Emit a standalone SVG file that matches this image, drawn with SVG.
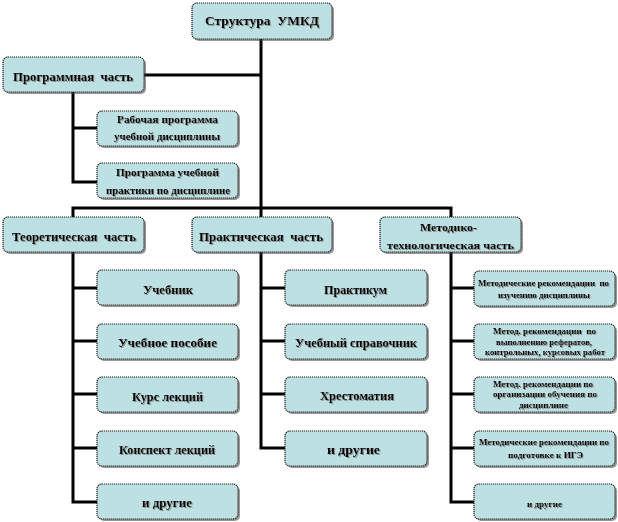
<svg xmlns="http://www.w3.org/2000/svg" width="618" height="522" viewBox="0 0 618 522">
<defs>
<filter id="tsh" x="-5%" y="-20%" width="115%" height="150%"><feDropShadow dx="1" dy="1" stdDeviation="0.4" flood-color="#777" flood-opacity="0.8"/></filter>
<style>
.box{fill:#bde0e3;stroke:#222;stroke-width:1.2;stroke-dasharray:1.2 0.8}
.sh{fill:#444;opacity:0.55}
.t{font-family:"Liberation Serif","Times New Roman","DejaVu Serif",serif;font-weight:bold;fill:#000;text-anchor:middle;white-space:pre;filter:url(#tsh)}
.t13{font-size:13.5px}
.t12{font-size:12px}
.t11{font-size:11px}
.t9{font-size:9px}
.ln{stroke:#000;stroke-width:3;fill:none}
</style>
</defs>
<rect width="618" height="522" fill="#fff"/>
<g id="connectors">
<path class="ln" d="M261 39V208"/>
<path class="ln" d="M144 75H261"/>
<path class="ln" d="M73 92V182H97M73 128H97"/>
<path class="ln" d="M73 217V208H451V217M261 208V217"/>
<path class="ln" d="M73 252V502H97M73 288H97M73 341H97M73 394H97M73 448H97"/>
<path class="ln" d="M261 252V448H285M261 288H285M261 341H285M261 394H285"/>
<path class="ln" d="M451 252V502H474M451 288H474M451 341H474M451 394H474M451 448H474"/>
</g>
<g id="n-root"><rect class="sh" x="194" y="5" width="140" height="36" rx="5"/><rect class="box" x="192" y="3" width="140" height="36" rx="5"/><text class="t t13" x="262" y="25" textLength="114" lengthAdjust="spacingAndGlyphs">Структура  УМКД</text></g>
<g id="n-prog"><rect class="sh" x="5" y="59" width="141" height="35" rx="5"/><rect class="box" x="3" y="57" width="141" height="35" rx="5"/><text class="t t13" x="73" y="81" textLength="120" lengthAdjust="spacingAndGlyphs">Программная  часть</text></g>
<g id="n-rab"><rect class="sh" x="99" y="113" width="141" height="35" rx="5"/><rect class="box" x="97" y="111" width="141" height="35" rx="5"/><text class="t t11" x="167.5" y="123" textLength="101" lengthAdjust="spacingAndGlyphs">Рабочая программа</text><text class="t t11" x="167" y="140" textLength="106" lengthAdjust="spacingAndGlyphs">учебной дисциплины</text></g>
<g id="n-prak-prog"><rect class="sh" x="99" y="165" width="141" height="35" rx="5"/><rect class="box" x="97" y="163" width="141" height="35" rx="5"/><text class="t t11" x="167.5" y="176" textLength="103" lengthAdjust="spacingAndGlyphs">Программа учебной</text><text class="t t11" x="168" y="194" textLength="124" lengthAdjust="spacingAndGlyphs">практики по дисциплине</text></g>
<g id="n-teor"><rect class="sh" x="5" y="219" width="141" height="35" rx="5"/><rect class="box" x="3" y="217" width="141" height="35" rx="5"/><text class="t t13" x="74" y="241" textLength="124" lengthAdjust="spacingAndGlyphs">Теоретическая  часть</text></g>
<g id="n-prakt"><rect class="sh" x="194" y="219" width="140" height="35" rx="5"/><rect class="box" x="192" y="217" width="140" height="35" rx="5"/><text class="t t13" x="261" y="241" textLength="124" lengthAdjust="spacingAndGlyphs">Практическая  часть</text></g>
<g id="n-metod"><rect class="sh" x="382" y="219" width="141" height="35" rx="5"/><rect class="box" x="380" y="217" width="141" height="35" rx="5"/><text class="t t11" x="448.5" y="231" textLength="57" lengthAdjust="spacingAndGlyphs">Методико-</text><text class="t t11" x="450.5" y="249" textLength="127" lengthAdjust="spacingAndGlyphs">технологическая часть</text></g>
<g id="n-uch"><rect class="sh" x="99" y="272" width="141" height="35" rx="5"/><rect class="box" x="97" y="270" width="141" height="35" rx="5"/><text class="t t12" x="168" y="294" textLength="50" lengthAdjust="spacingAndGlyphs">Учебник</text></g>
<g id="n-pos"><rect class="sh" x="99" y="326" width="141" height="35" rx="5"/><rect class="box" x="97" y="324" width="141" height="35" rx="5"/><text class="t t12" x="167.5" y="347" textLength="99" lengthAdjust="spacingAndGlyphs">Учебное пособие</text></g>
<g id="n-kurs"><rect class="sh" x="99" y="379" width="141" height="35" rx="5"/><rect class="box" x="97" y="377" width="141" height="35" rx="5"/><text class="t t12" x="167.5" y="401" textLength="71" lengthAdjust="spacingAndGlyphs">Курс лекций</text></g>
<g id="n-konsp"><rect class="sh" x="99" y="433" width="141" height="35" rx="5"/><rect class="box" x="97" y="431" width="141" height="35" rx="5"/><text class="t t12" x="167" y="454" textLength="96" lengthAdjust="spacingAndGlyphs">Конспект лекций</text></g>
<g id="n-dr1"><rect class="sh" x="99" y="486" width="141" height="35" rx="5"/><rect class="box" x="97" y="484" width="141" height="35" rx="5"/><text class="t t12" x="167" y="507" textLength="50" lengthAdjust="spacingAndGlyphs">и другие</text></g>
<g id="n-praktikum"><rect class="sh" x="287" y="272" width="142" height="35" rx="5"/><rect class="box" x="285" y="270" width="142" height="35" rx="5"/><text class="t t12" x="355.5" y="294" textLength="63" lengthAdjust="spacingAndGlyphs">Практикум</text></g>
<g id="n-sprav"><rect class="sh" x="287" y="326" width="142" height="35" rx="5"/><rect class="box" x="285" y="324" width="142" height="35" rx="5"/><text class="t t12" x="356" y="347" textLength="122" lengthAdjust="spacingAndGlyphs">Учебный справочник</text></g>
<g id="n-hrest"><rect class="sh" x="287" y="379" width="142" height="35" rx="5"/><rect class="box" x="285" y="377" width="142" height="35" rx="5"/><text class="t t12" x="357" y="400" textLength="74" lengthAdjust="spacingAndGlyphs">Хрестоматия</text></g>
<g id="n-dr2"><rect class="sh" x="287" y="433" width="142" height="35" rx="5"/><rect class="box" x="285" y="431" width="142" height="35" rx="5"/><text class="t t12" x="353.5" y="454" textLength="53" lengthAdjust="spacingAndGlyphs">и другие</text></g>
<g id="n-m1"><rect class="sh" x="476" y="273" width="141" height="35" rx="5"/><rect class="box" x="474" y="271" width="141" height="35" rx="5"/><text class="t t9" x="543.5" y="286" textLength="131" lengthAdjust="spacingAndGlyphs">Методические рекомендации  по</text><text class="t t9" x="544" y="298" textLength="92" lengthAdjust="spacingAndGlyphs">изучению дисциплины</text></g>
<g id="n-m2"><rect class="sh" x="476" y="326" width="141" height="35" rx="5"/><rect class="box" x="474" y="324" width="141" height="35" rx="5"/><text class="t t9" x="544.5" y="334" textLength="103" lengthAdjust="spacingAndGlyphs">Метод. рекомендации  по</text><text class="t t9" x="544" y="345" textLength="96" lengthAdjust="spacingAndGlyphs">выполнению рефератов,</text><text class="t t9" x="545" y="355" textLength="120" lengthAdjust="spacingAndGlyphs">контрольных, курсовых работ</text></g>
<g id="n-m3"><rect class="sh" x="476" y="379" width="141" height="35" rx="5"/><rect class="box" x="474" y="377" width="141" height="35" rx="5"/><text class="t t9" x="543" y="387" textLength="100" lengthAdjust="spacingAndGlyphs">Метод. рекомендации по</text><text class="t t9" x="545" y="397" textLength="104" lengthAdjust="spacingAndGlyphs">организации обучения по</text><text class="t t9" x="543.5" y="408" textLength="49" lengthAdjust="spacingAndGlyphs">дисциплине</text></g>
<g id="n-m4"><rect class="sh" x="476" y="433" width="141" height="35" rx="5"/><rect class="box" x="474" y="431" width="141" height="35" rx="5"/><text class="t t9" x="544" y="445" textLength="130" lengthAdjust="spacingAndGlyphs">Методические рекомендации по</text><text class="t t9" x="545.5" y="458" textLength="75" lengthAdjust="spacingAndGlyphs">подготовке к ИГЭ</text></g>
<g id="n-m5"><rect class="sh" x="476" y="486" width="141" height="35" rx="5"/><rect class="box" x="474" y="484" width="141" height="35" rx="5"/><text class="t t9" x="544.5" y="507" textLength="35" lengthAdjust="spacingAndGlyphs">и другие</text></g>
</svg>
